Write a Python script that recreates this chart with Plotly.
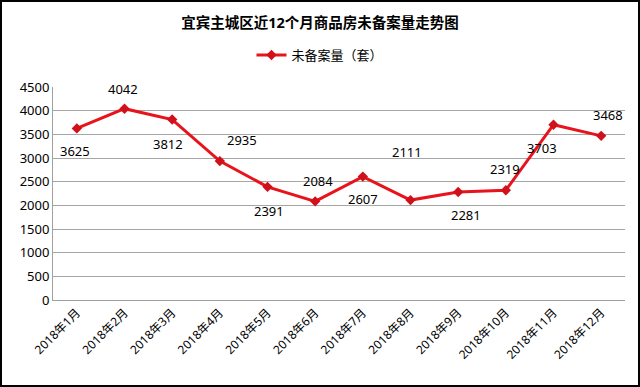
import plotly.graph_objects as go

months = ["2018年1月", "2018年2月", "2018年3月", "2018年4月", "2018年5月", "2018年6月",
          "2018年7月", "2018年8月", "2018年9月", "2018年10月", "2018年11月", "2018年12月"]
unsold = [3625, 4042, 3812, 2935, 2391, 2084, 2607, 2111, 2281, 2319, 3703, 3468]
y_ticks = [0, 500, 1000, 1500, 2000, 2500, 3000, 3500, 4000, 4500]

# label offsets (pixels) per point, style only
label_dx = [-2, -2, -4, 22, 1, 3, 0, -4, 8, -1, -12, 7]
label_dy = [-23, 20, -24, 21, -24, 20, -22, 48, -23, 21, -23, 21]

FONT = "Noto Sans, Noto Sans CJK SC, sans-serif"

fig = go.Figure()
fig.add_trace(go.Scatter(
    x=months, y=unsold, mode="lines+markers", name="未备案量（套）",
    line=dict(color="#e8141c", width=3),
    marker=dict(symbol="diamond", size=8, color="#d0101a"),
))

for m, v, dx, dy in zip(months, unsold, label_dx, label_dy):
    fig.add_annotation(x=m, y=v, text=str(v), showarrow=False, xshift=dx, yshift=dy,
                       font=dict(family=FONT, size=13, color="#000000"))

W, H = 640, 387
ml, mr, mt, mb = 53, 15, 87, 87
pw, ph = W - ml - mr, H - mt - mb
fig.add_shape(type="rect", xref="paper", yref="paper",
              x0=-(ml - 1) / pw, x1=1 + (mr - 1) / pw,
              y0=-(mb - 1) / ph, y1=1 + (mt - 1) / ph,
              line=dict(color="#000000", width=2), layer="above")

fig.update_layout(
    width=W, height=H,
    margin=dict(l=ml, r=mr, t=mt, b=mb, autoexpand=False),
    paper_bgcolor="white", plot_bgcolor="white",
    title=dict(text="<b>宜宾主城区近12个月商品房未备案量走势图</b>", x=0.5, xref="container",
               xanchor="center", y=1 - 23 / H, yanchor="middle",
               font=dict(family=FONT, size=14.5, color="#000000")),
    showlegend=True,
    legend=dict(orientation="h", x=0.5, xanchor="center", xref="container",
                y=1 - 55 / H, yref="container", yanchor="middle",
                font=dict(family=FONT, size=13, color="#000000")),
    xaxis=dict(type="category", range=[-0.5, len(months) - 0.5], tickangle=-45,
               showgrid=False, automargin=False,
               showline=True, linecolor="#a0a0a0", linewidth=1, ticks="",
               tickfont=dict(family=FONT, size=12, color="#000000")),
    yaxis=dict(range=[0, 4500], tickvals=y_ticks, showgrid=True, gridcolor="#a6a6a6",
               gridwidth=1, showline=True, linecolor="#a0a0a0", linewidth=1,
               zeroline=False, ticks="", automargin=False,
               tickfont=dict(family=FONT, size=13, color="#000000")),
)

fig.write_html("out.html", config={"displayModeBar": False},
               post_script="document.body.style.margin='0';")
